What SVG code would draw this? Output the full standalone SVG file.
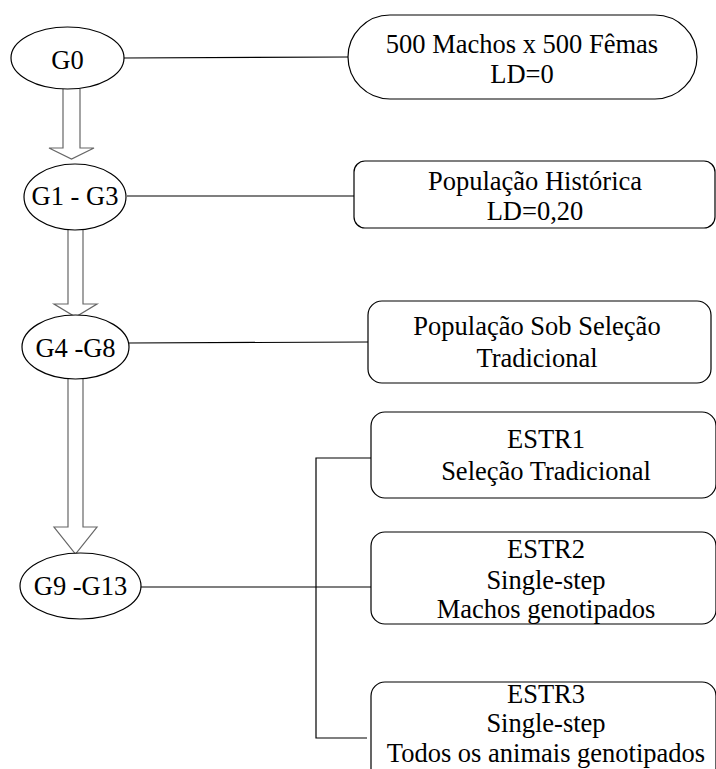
<svg xmlns="http://www.w3.org/2000/svg" width="716" height="769" viewBox="0 0 716 769">
<style>
text{font-family:"Liberation Serif","DejaVu Serif","Times New Roman",serif;font-size:26.5px;fill:#000;text-anchor:middle}
.n{fill:#fff;stroke:#000;stroke-width:1.2}
.c{fill:none;stroke:#000;stroke-width:1.2}
.a{fill:#fff;stroke:#666;stroke-width:1.2}
</style>
<rect width="716" height="769" fill="#fff"/>
<g id="connectors">
<line class="c" x1="124" y1="58" x2="348" y2="57"/>
<line class="c" x1="127" y1="196" x2="354" y2="196"/>
<line class="c" x1="129" y1="343" x2="368" y2="342"/>
<line class="c" x1="141" y1="587" x2="371" y2="587"/>
<polyline class="c" points="371,458 316,458 316,738 367,738"/>
<path class="a" d="M63,89 V148 H49 L71.5,159 L94,148 H80 V89"/>
<path class="a" d="M68,230 V304 H54 L75.5,317 L97,304 H83 V230"/>
<path class="a" d="M68,379 V527 H54 L75.5,554 L97,527 H83 V379"/>
</g>
<g id="g0"><ellipse class="n" cx="67.5" cy="58" rx="56.5" ry="31"/><text x="67.5" y="69">G0</text></g>
<g id="g1"><ellipse class="n" cx="75" cy="197" rx="51" ry="33"/><text x="75" y="205">G1 - G3</text></g>
<g id="g4"><ellipse class="n" cx="75.5" cy="347" rx="53.5" ry="32"/><text x="75.5" y="357">G4 -G8</text></g>
<g id="g9"><ellipse class="n" cx="80.5" cy="586" rx="60.5" ry="33"/><text x="80.5" y="595">G9 -G13</text></g>
<g id="b0"><rect class="n" x="348" y="15" width="349" height="84" rx="42" ry="42"/><text x="522" y="53">500 Machos x 500 Fêmas</text><text x="522" y="83">LD=0</text></g>
<g id="b1"><rect class="n" x="354" y="161" width="361" height="67" rx="11"/><text x="535" y="190">População Histórica</text><text x="535" y="220">LD=0,20</text></g>
<g id="b2"><rect class="n" x="368" y="301" width="343" height="82" rx="14"/><text x="537" y="335">População Sob Seleção</text><text x="537" y="367">Tradicional</text></g>
<g id="e1"><rect class="n" x="371" y="412" width="345" height="86" rx="14"/><text x="546" y="448">ESTR1</text><text x="546" y="480">Seleção Tradicional</text></g>
<g id="e2"><rect class="n" x="371" y="532" width="345" height="92" rx="14"/><text x="546" y="558">ESTR2</text><text x="546" y="589">Single-step</text><text x="546" y="618">Machos genotipados</text></g>
<g id="e3"><rect class="n" x="371" y="682" width="345" height="100" rx="14"/><text x="546" y="703" font-size="26">ESTR3</text><text x="546" y="732" font-size="26">Single-step</text><text x="546" y="762" font-size="26">Todos os animais genotipados</text></g>
</svg>
